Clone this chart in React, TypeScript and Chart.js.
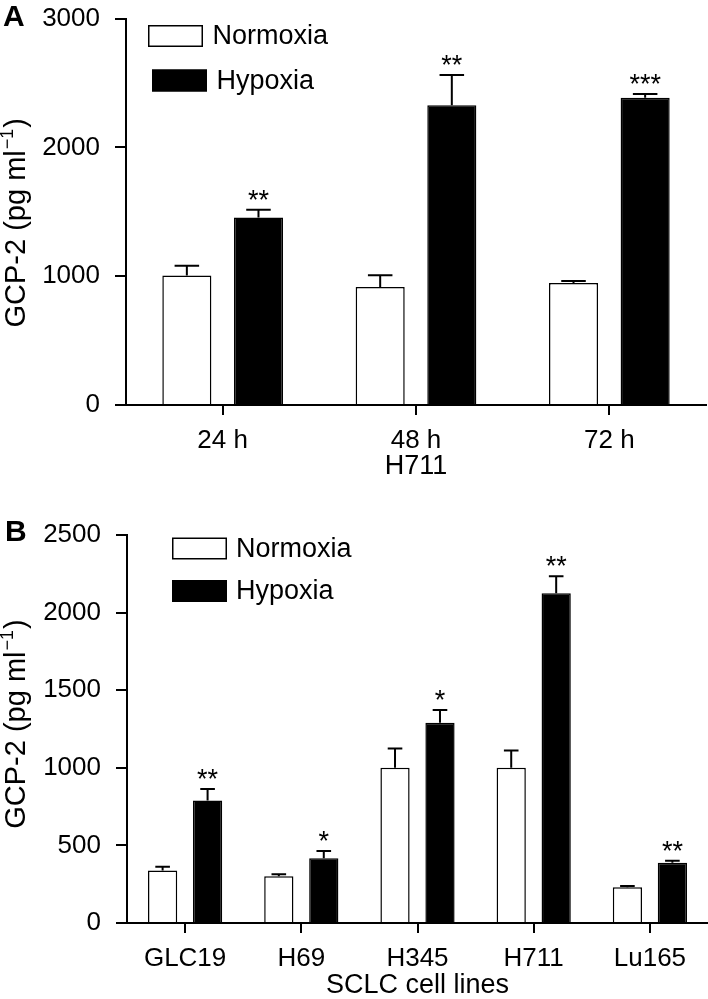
import React, { useEffect, useRef } from 'react';
import { Chart, registerables } from 'chart.js';

Chart.register(...registerables);

const seriesLabels = ['Normoxia', 'Hypoxia'];
const yTitleMain = 'GCP-2 (pg ml';
const yTitleSup = '\u22121';
const yTitleEnd = ')';

// Panel A
const aCategories = ['24 h', '48 h', '72 h'];
const aNormoxia = [1005, 915, 946];
const aNormoxiaErr = [75, 93, 17];
const aHypoxia = [1455, 2326, 2385];
const aHypoxiaErr = [60, 236, 29];
const aStars = ['**', '**', '***'];
const aYTicks = [0, 1000, 2000, 3000];
const aXTitle = 'H711';

// Panel B
const bCategories = ['GLC19', 'H69', 'H345', 'H711', 'Lu165'];
const bNormoxia = [339, 301, 1000, 1000, 230];
const bNormoxiaErr = [23, 13, 125, 112, 8];
const bHypoxia = [790, 417, 1290, 2125, 388];
const bHypoxiaErr = [73, 47, 83, 109, 13];
const bStars = ['**', '*', '*', '**', '**'];
const bYTicks = [0, 500, 1000, 1500, 2000, 2500];
const bXTitle = 'SCLC cell lines';

const FONT = "'Liberation Sans', Arial, Helvetica, sans-serif";

type Spec = {
  letter: string;
  categories: string[];
  norm: number[];
  normErr: number[];
  hyp: number[];
  hypErr: number[];
  stars: string[];
  yTicks: number[];
  xTitle: string;
  height: number;
  padTop: number;
  padRight: number;
  yWidth: number;
  xHeight: number;
  catPct: number;
  barPct: number;
  legend: { dx: number[]; dy: number[]; boxW: number; boxH: number; gap: number };
  letterX: number;
  letterY: number;
  xTitlePad: number;
  titleShift: number;
};

const specA: Spec = {
  letter: 'A',
  categories: aCategories,
  norm: aNormoxia,
  normErr: aNormoxiaErr,
  hyp: aHypoxia,
  hypErr: aHypoxiaErr,
  stars: aStars,
  yTicks: aYTicks,
  xTitle: aXTitle,
  height: 495,
  padTop: 18.5,
  padRight: 2,
  yWidth: 126,
  xHeight: 90,
  catPct: 0.741,
  barPct: 0.685,
  legend: { dx: [22, 26], dy: [6.5, 51], boxW: 55, boxH: 22, gap: 9.5 },
  letterX: 3,
  letterY: 18,
  xTitlePad: 15,
  titleShift: 12,
};

const specB: Spec = {
  letter: 'B',
  categories: bCategories,
  norm: bNormoxia,
  normErr: bNormoxiaErr,
  hyp: bHypoxia,
  hypErr: bHypoxiaErr,
  stars: bStars,
  yTicks: bYTicks,
  xTitle: bXTitle,
  height: 504,
  padTop: 40,
  padRight: 0,
  yWidth: 127,
  xHeight: 76,
  catPct: 0.774,
  barPct: 0.65,
  legend: { dx: [45, 45], dy: [2.5, 45], boxW: 55, boxH: 22, gap: 9 },
  letterX: 5,
  letterY: 38,
  xTitlePad: 0,
  titleShift: -4,
};

function makeOverlay(spec: Spec) {
  return {
    id: 'overlay' + spec.letter,
    afterDatasetsDraw(chart: any) {
      const ctx: CanvasRenderingContext2D = chart.ctx;
      const ys = chart.scales.y;
      const ca = chart.chartArea;
      const errs = [spec.normErr, spec.hypErr];
      ctx.save();
      ctx.strokeStyle = '#000';
      ctx.fillStyle = '#000';
      ctx.lineWidth = 2;
      chart.data.datasets.forEach((ds: any, di: number) => {
        const meta = chart.getDatasetMeta(di);
        meta.data.forEach((el: any, i: number) => {
          const v = ds.data[i] as number;
          const yTop = ys.getPixelForValue(v + errs[di][i]);
          const half = el.width / 4;
          ctx.beginPath();
          ctx.moveTo(el.x, el.y);
          ctx.lineTo(el.x, yTop);
          ctx.moveTo(el.x - half, yTop);
          ctx.lineTo(el.x + half, yTop);
          ctx.stroke();
          if (di === 1 && spec.stars[i]) {
            ctx.font = `27px ${FONT}`;
            ctx.textAlign = 'center';
            ctx.textBaseline = 'alphabetic';
            ctx.fillText(spec.stars[i], el.x, yTop - 17 + 16);
          }
        });
      });

      // legend
      const lg = spec.legend;
      chart.data.datasets.forEach((ds: any, di: number) => {
        const bx = ca.left + lg.dx[di];
        const by = ca.top + lg.dy[di];
        ctx.fillStyle = ds.backgroundColor;
        ctx.fillRect(bx, by, lg.boxW, lg.boxH);
        ctx.lineWidth = 1.5;
        ctx.strokeStyle = '#000';
        ctx.strokeRect(bx + 0.75, by + 0.75, lg.boxW - 1.5, lg.boxH - 1.5);
        ctx.fillStyle = '#000';
        ctx.font = `27px ${FONT}`;
        ctx.textAlign = 'left';
        ctx.textBaseline = 'middle';
        ctx.fillText(ds.label, bx + lg.boxW + lg.gap, by + lg.boxH / 2 + 1);
      });

      // y-axis title with superscript
      const yc = (ca.top + ca.bottom) / 2 + spec.titleShift;
      ctx.save();
      ctx.translate(17, yc);
      ctx.rotate(-Math.PI / 2);
      ctx.textBaseline = 'middle';
      ctx.textAlign = 'left';
      const mainFont = `29px ${FONT}`;
      const supFont = `18px ${FONT}`;
      ctx.font = mainFont;
      const w1 = ctx.measureText(yTitleMain).width;
      const w3 = ctx.measureText(yTitleEnd).width;
      ctx.font = supFont;
      const w2 = ctx.measureText(yTitleSup).width;
      const total = w1 + w2 + w3;
      let x = -total / 2;
      ctx.font = mainFont;
      ctx.fillText(yTitleMain, x, 0);
      x += w1;
      ctx.font = supFont;
      ctx.fillText(yTitleSup, x + 1, -9);
      x += w2 + 2;
      ctx.font = mainFont;
      ctx.fillText(yTitleEnd, x, 0);
      ctx.restore();

      // panel letter
      ctx.font = `bold 30px ${FONT}`;
      ctx.textAlign = 'left';
      ctx.textBaseline = 'middle';
      ctx.fillText(spec.letter, spec.letterX, spec.letterY);
      ctx.restore();
    },
  };
}

function Panel({ spec }: { spec: Spec }) {
  const ref = useRef<HTMLCanvasElement>(null);
  useEffect(() => {
    if (!ref.current) return;
    const yMax = spec.yTicks[spec.yTicks.length - 1];
    const chart = new Chart(ref.current, {
      type: 'bar',
      data: {
        labels: spec.categories,
        datasets: [
          {
            label: seriesLabels[0],
            data: spec.norm,
            backgroundColor: '#ffffff',
            borderColor: '#000000',
            borderWidth: 1.5,
            categoryPercentage: spec.catPct,
            barPercentage: spec.barPct,
          },
          {
            label: seriesLabels[1],
            data: spec.hyp,
            backgroundColor: '#000000',
            borderColor: '#000000',
            borderWidth: 1.5,
            categoryPercentage: spec.catPct,
            barPercentage: spec.barPct,
          },
        ],
      },
      options: {
        responsive: false,
        animation: false,
        devicePixelRatio: 1,
        layout: { padding: { top: spec.padTop, right: spec.padRight, bottom: 0, left: 0 } },
        plugins: { legend: { display: false }, tooltip: { enabled: false } },
        scales: {
          x: {
            offset: true,
            grid: {
              offset: false,
              drawOnChartArea: false,
              drawTicks: true,
              tickLength: 10,
              color: '#000',
              lineWidth: 2,
            },
            border: { display: true, color: '#000', width: 2 },
            ticks: { color: '#000', font: { family: FONT, size: 26 }, padding: 10, maxRotation: 0 },
            title: {
              display: true,
              text: spec.xTitle,
              color: '#000',
              font: { family: FONT, size: 27, lineHeight: 1 },
              padding: { top: 0, bottom: spec.xTitlePad },
            },
            afterFit: (s: any) => {
              s.height = spec.xHeight;
            },
          },
          y: {
            min: 0,
            max: yMax,
            grid: {
              drawOnChartArea: false,
              drawTicks: true,
              tickLength: 11,
              color: '#000',
              lineWidth: 2,
            },
            border: { display: true, color: '#000', width: 2 },
            ticks: {
              color: '#000',
              font: { family: FONT, size: 26, lineHeight: 0.2 },
              padding: 15,
              callback: (v: any) => String(v),
            },
            afterBuildTicks: (s: any) => {
              s.ticks = spec.yTicks.map((v) => ({ value: v }));
            },
            afterFit: (s: any) => {
              s.width = spec.yWidth;
            },
          },
        },
      },
      plugins: [makeOverlay(spec)],
    });
    return () => chart.destroy();
  }, [spec]);
  return <canvas ref={ref} width={708} height={spec.height} style={{ display: 'block' }} />;
}

export default function App() {
  return (
    <div style={{ position: 'absolute', left: 0, top: 0, width: 708, height: 999, background: '#fff' }}>
      <Panel spec={specA} />
      <Panel spec={specB} />
    </div>
  );
}
